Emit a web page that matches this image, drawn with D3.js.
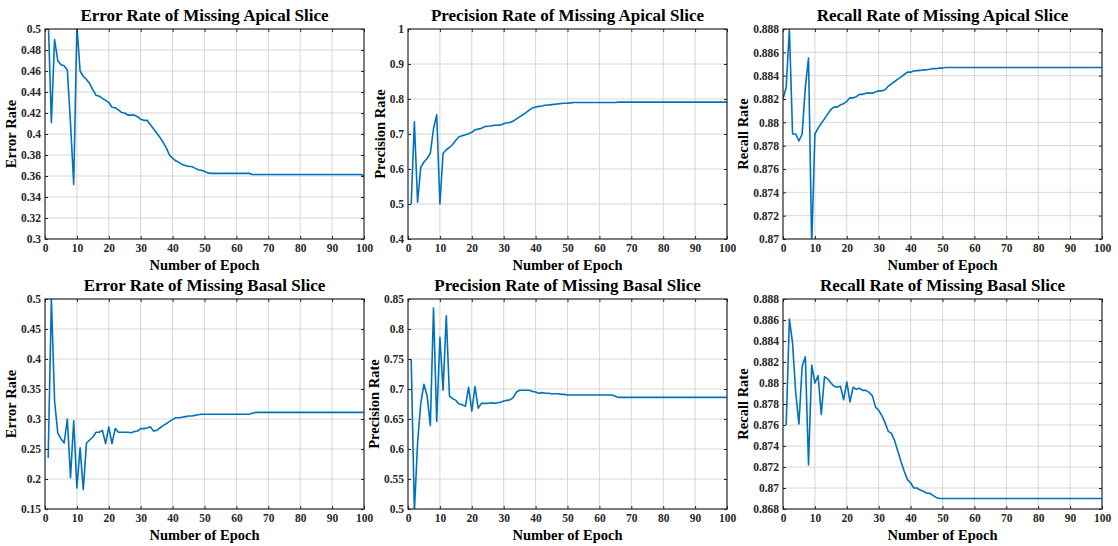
<!DOCTYPE html>
<html>
<head>
<meta charset="utf-8">
<script src="https://cdn.jsdelivr.net/npm/d3@7"></script>
<style>
  body { margin: 0; background: #fff; }
  text { font-family: "Liberation Serif", "Times New Roman", serif; font-weight: bold; fill: #000; }
</style>
</head>
<body>
<div id="chart"></div>
<script>

// ---------------------------------------------
// ---------          Data           -----------
// ---------------------------------------------

const epochs = d3.range(1, 101);
const epochsFromZero = d3.range(0, 101);

const errorApical = [
  0.51, 0.411, 0.490, 0.470, 0.466, 0.465, 0.461, 0.41, 0.352, 0.503,
  0.460, 0.455, 0.452, 0.448, 0.442, 0.437, 0.436, 0.434, 0.432, 0.430,
  0.4255, 0.425, 0.423, 0.4205, 0.420, 0.418, 0.418, 0.418, 0.4165, 0.414,
  0.413, 0.413, 0.409, 0.405, 0.401, 0.397, 0.392, 0.387, 0.380, 0.377,
  0.3745, 0.373, 0.371, 0.370, 0.369, 0.369, 0.3675, 0.366, 0.3655, 0.3645,
  0.363, 0.3625, 0.3625, 0.3625, 0.3625, 0.3625, 0.3625, 0.3625, 0.3625, 0.3625,
  0.3625, 0.3625, 0.3625, 0.3625, 0.3615, 0.3615, 0.3615, 0.3615, 0.3615, 0.3615,
  0.3615, 0.3615, 0.3615, 0.3615, 0.3615, 0.3615, 0.3615, 0.3615, 0.3615, 0.3615,
  0.3615, 0.3615, 0.3615, 0.3615, 0.3615, 0.3615, 0.3615, 0.3615, 0.3615, 0.3615,
  0.3615, 0.3615, 0.3615, 0.3615, 0.3615, 0.3615, 0.3615, 0.3615, 0.3615, 0.360
];

const precisionApical = [
  0.5, 0.735, 0.505, 0.605, 0.62, 0.63, 0.645, 0.715, 0.755, 0.5,
  0.645, 0.655, 0.662, 0.67, 0.682, 0.692, 0.695, 0.698, 0.701, 0.705,
  0.712, 0.714, 0.716, 0.721, 0.722, 0.723, 0.725, 0.725, 0.726, 0.729,
  0.732, 0.733, 0.737, 0.743, 0.749, 0.755, 0.761, 0.768, 0.774, 0.777,
  0.779, 0.780, 0.782, 0.783, 0.784, 0.785, 0.786, 0.787, 0.788, 0.788,
  0.789, 0.790, 0.790, 0.790, 0.790, 0.790, 0.790, 0.790, 0.790, 0.790,
  0.790, 0.790, 0.790, 0.790, 0.790, 0.791, 0.791, 0.791, 0.791, 0.791,
  0.791, 0.791, 0.791, 0.791, 0.791, 0.791, 0.791, 0.791, 0.791, 0.791,
  0.791, 0.791, 0.791, 0.791, 0.791, 0.791, 0.791, 0.791, 0.791, 0.791,
  0.791, 0.791, 0.791, 0.791, 0.791, 0.791, 0.791, 0.791, 0.791, 0.791
];

// recall of apical slice starts at epoch 0
const recallApical = [
  0.882, 0.883, 0.888, 0.879, 0.879, 0.8784, 0.879, 0.883, 0.8855, 0.8695,
  0.8790, 0.8795, 0.8799, 0.8803, 0.8807, 0.8811, 0.8813, 0.8813, 0.8815, 0.8816,
  0.8818, 0.8821, 0.8821, 0.8822, 0.8824, 0.8824, 0.8825, 0.8825, 0.8825, 0.8826,
  0.8827, 0.8827, 0.8828, 0.8831, 0.8833, 0.8835, 0.8837, 0.8839, 0.8841, 0.8843,
  0.8843, 0.8844, 0.88443, 0.88445, 0.8845, 0.8845, 0.88455, 0.8846, 0.8846, 0.88465,
  0.88465, 0.8847, 0.8847, 0.8847, 0.8847, 0.8847, 0.8847, 0.8847, 0.8847, 0.8847,
  0.8847, 0.8847, 0.8847, 0.8847, 0.8847, 0.8847, 0.8847, 0.8847, 0.8847, 0.8847,
  0.8847, 0.8847, 0.8847, 0.8847, 0.8847, 0.8847, 0.8847, 0.8847, 0.8847, 0.8847,
  0.8847, 0.8847, 0.8847, 0.8847, 0.8847, 0.8847, 0.8847, 0.8847, 0.8847, 0.8847,
  0.8847, 0.8847, 0.8847, 0.8847, 0.8847, 0.8847, 0.8847, 0.8847, 0.8847, 0.8847,
  0.8847
];

const errorBasal = [
  0.235, 0.5, 0.33, 0.277, 0.267, 0.26, 0.30, 0.202, 0.297, 0.185,
  0.252, 0.182, 0.26, 0.265, 0.27, 0.278, 0.278, 0.281, 0.259, 0.287,
  0.259, 0.284, 0.278, 0.278, 0.278, 0.278, 0.277, 0.279, 0.28, 0.284,
  0.284, 0.285, 0.287, 0.280, 0.281, 0.285, 0.289, 0.292, 0.296, 0.299,
  0.302, 0.302, 0.303, 0.304, 0.305, 0.305, 0.306, 0.307, 0.308, 0.308,
  0.308, 0.308, 0.308, 0.308, 0.308, 0.308, 0.308, 0.308, 0.308, 0.308,
  0.308, 0.308, 0.308, 0.308, 0.3095, 0.311, 0.311, 0.311, 0.311, 0.311,
  0.311, 0.311, 0.311, 0.311, 0.311, 0.311, 0.311, 0.311, 0.311, 0.311,
  0.311, 0.311, 0.311, 0.311, 0.311, 0.311, 0.311, 0.311, 0.311, 0.311,
  0.311, 0.311, 0.311, 0.311, 0.311, 0.311, 0.311, 0.311, 0.311, 0.311
];

const precisionBasal = [
  0.75, 0.495, 0.61, 0.676, 0.708, 0.688, 0.639, 0.835, 0.646, 0.786,
  0.698, 0.822, 0.688, 0.684, 0.681, 0.675, 0.674, 0.671, 0.703, 0.663,
  0.704, 0.668, 0.676, 0.676, 0.676, 0.677, 0.676, 0.677, 0.678, 0.680,
  0.681, 0.682, 0.686, 0.695, 0.698, 0.698, 0.698, 0.698, 0.696, 0.695,
  0.693, 0.694, 0.693, 0.693, 0.692, 0.692, 0.692, 0.691, 0.691, 0.690,
  0.690, 0.690, 0.690, 0.690, 0.690, 0.690, 0.690, 0.690, 0.690, 0.690,
  0.690, 0.690, 0.690, 0.690, 0.688, 0.686, 0.686, 0.686, 0.686, 0.686,
  0.686, 0.686, 0.686, 0.686, 0.686, 0.686, 0.686, 0.686, 0.686, 0.686,
  0.686, 0.686, 0.686, 0.686, 0.686, 0.686, 0.686, 0.686, 0.686, 0.686,
  0.686, 0.686, 0.686, 0.686, 0.686, 0.686, 0.686, 0.686, 0.686, 0.686
];

const recallBasal = [
  0.876, 0.8861, 0.8838, 0.879, 0.8761, 0.8816, 0.8825, 0.8722, 0.8817, 0.8800,
  0.8807, 0.8770, 0.8806, 0.8804, 0.8800, 0.8797, 0.8796, 0.8797, 0.8784, 0.8801,
  0.8782, 0.8796, 0.8794, 0.8795, 0.8793, 0.8793, 0.8791, 0.8788, 0.8777, 0.8774,
  0.8769, 0.8762, 0.8754, 0.8752, 0.8745, 0.8735, 0.8725, 0.8716, 0.8708, 0.8705,
  0.8700, 0.8700, 0.8698, 0.8697, 0.8695, 0.8695, 0.8693, 0.8691, 0.8690, 0.8690,
  0.8690, 0.8690, 0.8690, 0.8690, 0.8690, 0.8690, 0.8690, 0.8690, 0.8690, 0.8690,
  0.8690, 0.8690, 0.8690, 0.8690, 0.8690, 0.8690, 0.8690, 0.8690, 0.8690, 0.8690,
  0.8690, 0.8690, 0.8690, 0.8690, 0.8690, 0.8690, 0.8690, 0.8690, 0.8690, 0.8690,
  0.8690, 0.8690, 0.8690, 0.8690, 0.8690, 0.8690, 0.8690, 0.8690, 0.8690, 0.8690,
  0.8690, 0.8690, 0.8690, 0.8690, 0.8690, 0.8690, 0.8690, 0.8690, 0.8690, 0.8690
];

// tick labels
const xTicks = [0, 10, 20, 30, 40, 50, 60, 70, 80, 90, 100];
const yTicksErrorApical = [0.3, 0.32, 0.34, 0.36, 0.38, 0.4, 0.42, 0.44, 0.46, 0.48, 0.5];
const yTicksPrecisionApical = [0.4, 0.5, 0.6, 0.7, 0.8, 0.9, 1];
const yTicksRecallApical = [0.87, 0.872, 0.874, 0.876, 0.878, 0.88, 0.882, 0.884, 0.886, 0.888];
const yTicksErrorBasal = [0.15, 0.2, 0.25, 0.3, 0.35, 0.4, 0.45, 0.5];
const yTicksPrecisionBasal = [0.5, 0.55, 0.6, 0.65, 0.7, 0.75, 0.8, 0.85];
const yTicksRecallBasal = [0.868, 0.87, 0.872, 0.874, 0.876, 0.878, 0.88, 0.882, 0.884, 0.886, 0.888];

const titles = [
  "Error Rate of Missing Apical Slice", "Precision Rate of Missing Apical Slice", "Recall Rate of Missing Apical Slice",
  "Error Rate of Missing Basal Slice", "Precision Rate of Missing Basal Slice", "Recall Rate of Missing Basal Slice"
];
const yLabels = ["Error Rate", "Precision Rate", "Recall Rate", "Error Rate", "Precision Rate", "Recall Rate"];
const xLabel = "Number of Epoch";

// ---------------------------------------------
// ---------         Config          -----------
// ---------------------------------------------

const width = 1118;
const height = 546;
const colLeft = [45, 408, 783];
const rowTop = [29, 299];
const plotW = 319;
const plotH = 210;
const lineColor = "#0072BD";
const gridColor = "#d6d6d6";

const panels = [
  {x: epochs, y: errorApical, ticks: yTicksErrorApical},
  {x: epochs, y: precisionApical, ticks: yTicksPrecisionApical},
  {x: epochsFromZero, y: recallApical, ticks: yTicksRecallApical},
  {x: epochs, y: errorBasal, ticks: yTicksErrorBasal},
  {x: epochs, y: precisionBasal, ticks: yTicksPrecisionBasal},
  {x: epochs, y: recallBasal, ticks: yTicksRecallBasal}
];

const fmt = d => String(+d.toFixed(4));

const svg = d3.select("#chart")
  .append("svg")
    .attr("width", width)
    .attr("height", height);

// ---------------------------------------------
// ---------        Panels           -----------
// ---------------------------------------------

panels.forEach((p, i) => {
  const left = colLeft[i % 3];
  const top = rowTop[Math.floor(i / 3)];

  const x = d3.scaleLinear().domain([0, 100]).range([0, plotW]);
  const y = d3.scaleLinear()
    .domain([p.ticks[0], p.ticks[p.ticks.length - 1]])
    .range([plotH, 0]);

  const g = svg.append("g")
    .attr("transform", "translate(" + left + "," + top + ")");

  // grid
  g.append("g")
    .selectAll("line.vgrid")
    .data(xTicks.slice(1, -1))
    .join("line")
      .attr("x1", d => x(d)).attr("x2", d => x(d))
      .attr("y1", 0).attr("y2", plotH)
      .style("stroke", gridColor).style("stroke-width", 1);

  g.append("g")
    .selectAll("line.hgrid")
    .data(p.ticks.slice(1, -1))
    .join("line")
      .attr("x1", 0).attr("x2", plotW)
      .attr("y1", d => y(d)).attr("y2", d => y(d))
      .style("stroke", gridColor).style("stroke-width", 1);

  // clip
  const clipId = "clip" + i;
  g.append("clipPath").attr("id", clipId)
    .append("rect").attr("width", plotW).attr("height", plotH);

  const line = d3.line()
    .x((d, k) => x(p.x[k]))
    .y(d => y(d));

  g.append("path")
    .datum(p.y)
    .attr("clip-path", "url(#" + clipId + ")")
    .attr("d", line)
    .style("fill", "none")
    .style("stroke", lineColor)
    .style("stroke-width", 1.6)
    .style("stroke-linejoin", "round");

  // axes, ticks pointing inward
  g.append("g")
    .attr("transform", "translate(0," + plotH + ")")
    .call(d3.axisBottom(x).tickValues(xTicks).tickSize(-3).tickPadding(5).tickFormat(d3.format("d")));
  g.append("g")
    .call(d3.axisTop(x).tickValues(xTicks).tickSize(-3).tickFormat(""));

  const yAxis = g.append("g")
    .call(d3.axisLeft(y).tickValues(p.ticks).tickSize(-3).tickPadding(4).tickFormat(fmt));
  g.append("g")
    .attr("transform", "translate(" + plotW + ",0)")
    .call(d3.axisRight(y).tickValues(p.ticks).tickSize(-3).tickFormat(""));

  g.selectAll(".domain").remove();
  g.selectAll(".tick line").style("stroke", "#262626");
  g.selectAll(".tick text")
    .style("font-family", "'Liberation Serif', serif")
    .style("font-weight", "bold")
    .style("font-size", "11.5px")
    .style("fill", "#262626");

  // box
  g.append("rect")
    .attr("width", plotW).attr("height", plotH)
    .style("fill", "none")
    .style("stroke", "#262626")
    .style("stroke-width", 1.2);

  // title
  g.append("text")
    .attr("x", plotW / 2)
    .attr("y", -8)
    .attr("text-anchor", "middle")
    .style("font-size", "17px")
    .text(titles[i]);

  // x label
  g.append("text")
    .attr("x", plotW / 2)
    .attr("y", plotH + 31)
    .attr("text-anchor", "middle")
    .style("font-size", "14.5px")
    .text(xLabel);

  // y label, placed beside the tick labels
  const bb = yAxis.node().getBBox();
  g.append("text")
    .attr("transform", "translate(" + (bb.x - 5) + "," + (plotH / 2) + ") rotate(-90)")
    .attr("text-anchor", "middle")
    .style("font-size", "14.5px")
    .text(yLabels[i]);
});

</script>
</body>
</html>
